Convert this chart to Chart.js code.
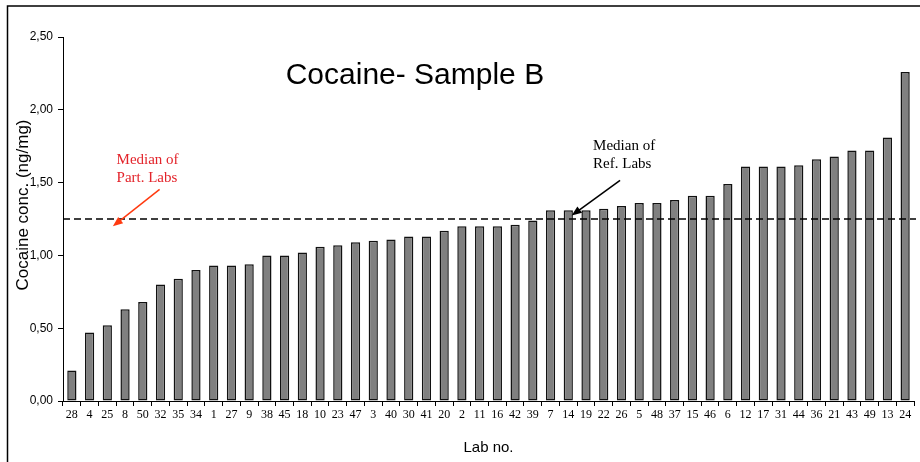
<!DOCTYPE html>
<html>
<head>
<meta charset="utf-8">
<script src="https://cdn.jsdelivr.net/npm/chart.js@4.4.1/dist/chart.umd.min.js"></script>
<style>
  html, body { margin: 0; padding: 0; background: #fff; }
  #wrap { width: 920px; height: 462px; }
</style>
</head>
<body>
<div id="wrap"><canvas id="chart" width="920" height="462"></canvas></div>
<script>
// Lab numbers, sorted by result (x axis)
const labNumbers = ['28', '4', '25', '8', '50', '32', '35', '34', '1', '27', '9', '38', '45', '18', '10', '23',
  '47', '3', '40', '30', '41', '20', '2', '11', '16', '42', '39', '7', '14', '19', '22', '26', '5', '48',
  '37', '15', '46', '6', '12', '17', '31', '44', '36', '21', '43', '49', '13', '24']

// Cocaine concentration, ng/mg
const cocaineConc = [0.21, 0.47, 0.52, 0.63, 0.68, 0.80, 0.84, 0.90, 0.93, 0.93, 0.94, 1.00, 1.00, 1.02,
  1.06, 1.07, 1.09, 1.10, 1.11, 1.13, 1.13, 1.17, 1.20, 1.20, 1.20, 1.21, 1.24, 1.31, 1.31, 1.31, 1.32,
  1.34, 1.36, 1.36, 1.38, 1.41, 1.41, 1.49, 1.61, 1.61, 1.61, 1.62, 1.66, 1.68, 1.72, 1.72, 1.81, 2.26]

const yTickValues = [0, 0.5, 1, 1.5, 2, 2.5]
const medianLine = 1.25

const chartTitle = 'Cocaine- Sample B'
const yTitle = 'Cocaine conc. (ng/mg)'
const xTitle = 'Lab no.'

// text + arrow notes, placed in data coords (category index, value)
const notes = [
  { lines: ['Median of', 'Part. Labs'], color: '#e3242b', arrowColor: '#ff3a10',
    at: [2.52, 1.652], from: [4.95, 1.453], to: [2.31, 1.2] },
  { lines: ['Median of', 'Ref. Labs'], color: '#000', arrowColor: '#000',
    at: [29.4, 1.748], from: [30.92, 1.516], to: [28.19, 1.274] }
]

function drawArrow(ctx, x1, y1, x2, y2, color) {
  const ang = Math.atan2(y2 - y1, x2 - x1)
  const len = 10, half = 4
  ctx.save()
  ctx.strokeStyle = color
  ctx.fillStyle = color
  ctx.lineWidth = 1.5
  ctx.beginPath()
  ctx.moveTo(x1, y1)
  ctx.lineTo(x2 - Math.cos(ang) * len * 0.8, y2 - Math.sin(ang) * len * 0.8)
  ctx.stroke()
  ctx.beginPath()
  ctx.moveTo(x2, y2)
  ctx.lineTo(x2 - Math.cos(ang) * len - Math.sin(ang) * half, y2 - Math.sin(ang) * len + Math.cos(ang) * half)
  ctx.lineTo(x2 - Math.cos(ang) * len + Math.sin(ang) * half, y2 - Math.sin(ang) * len - Math.cos(ang) * half)
  ctx.closePath()
  ctx.fill()
  ctx.restore()
}

const extras = {
  id: 'extras',
  afterDraw(chart) {
    const ctx = chart.ctx
    const { x, y } = chart.scales
    const area = chart.chartArea

    // outer frame (only top & left edges are inside the picture)
    ctx.save()
    ctx.strokeStyle = '#000'
    ctx.lineWidth = 1.5
    ctx.beginPath()
    ctx.moveTo(7.5, chart.height)
    ctx.lineTo(7.5, 6)
    ctx.lineTo(chart.width, 6)
    ctx.stroke()
    ctx.restore()

    // median dashed line
    const my = y.getPixelForValue(medianLine)
    ctx.save()
    ctx.strokeStyle = '#000'
    ctx.lineWidth = 1.5
    ctx.setLineDash([7, 4])
    ctx.beginPath()
    ctx.moveTo(area.left, my)
    ctx.lineTo(area.right + 2, my)
    ctx.stroke()
    ctx.restore()

    // title inside plot
    ctx.save()
    ctx.fillStyle = '#000'
    ctx.font = '30px "Liberation Sans", Arial, sans-serif'
    ctx.textAlign = 'center'
    ctx.textBaseline = 'alphabetic'
    ctx.fillText(chartTitle, x.getPixelForValue(19.35), y.getPixelForValue(2.174))
    ctx.restore()

    // y axis title
    ctx.save()
    ctx.fillStyle = '#000'
    ctx.font = '17px "Liberation Sans", Arial, sans-serif'
    ctx.textAlign = 'center'
    ctx.textBaseline = 'middle'
    ctx.translate(23, (area.top + area.bottom) / 2 - 14)
    ctx.rotate(-Math.PI / 2)
    ctx.fillText(yTitle, 0, 0)
    ctx.restore()

    // notes
    notes.forEach(n => {
      ctx.save()
      ctx.fillStyle = n.color
      ctx.font = '15px "Liberation Serif", "Times New Roman", serif'
      ctx.textAlign = 'left'
      ctx.textBaseline = 'middle'
      const tx = x.getPixelForValue(n.at[0])
      const ty = y.getPixelForValue(n.at[1])
      n.lines.forEach((l, i) => ctx.fillText(l, tx, ty + i * 18))
      ctx.restore()
      drawArrow(ctx,
        x.getPixelForValue(n.from[0]), y.getPixelForValue(n.from[1]),
        x.getPixelForValue(n.to[0]), y.getPixelForValue(n.to[1]), n.arrowColor)
    })
  }
}

new Chart(document.getElementById('chart'), {
  type: 'bar',
  data: {
    labels: labNumbers,
    datasets: [{
      data: cocaineConc,
      backgroundColor: '#808080',
      borderColor: '#111',
      borderWidth: 1.5,
      borderSkipped: false,
      barPercentage: 0.52,
      categoryPercentage: 1.0
    }]
  },
  options: {
    responsive: false,
    animation: false,
    devicePixelRatio: 1,
    layout: { padding: { top: 37, right: 6, left: 0, bottom: 0 } },
    plugins: {
      legend: { display: false },
      tooltip: { enabled: false },
      title: { display: false }
    },
    scales: {
      x: {
        afterFit: s => { s.height = 61 },
        border: { display: true, color: '#000', width: 1 },
        grid: { offset: true, drawOnChartArea: false, color: '#000', tickLength: 5 },
        ticks: {
          autoSkip: false, maxRotation: 0, minRotation: 0, padding: 2, color: '#000',
          font: { family: '"Liberation Serif", "Times New Roman", serif', size: 12 }
        },
        title: {
          display: true, text: xTitle, color: '#000',
          font: { family: '"Liberation Sans", Arial, sans-serif', size: 15 },
          padding: { top: 0, bottom: 5 }
        }
      },
      y: {
        min: 0,
        max: 2.5,
        afterFit: s => { s.width = 63 },
        afterBuildTicks: s => { s.ticks = yTickValues.map(v => ({ value: v })) },
        border: { display: true, color: '#000', width: 1 },
        grid: { drawOnChartArea: false, color: '#000', tickLength: 5 },
        ticks: {
          padding: 5, color: '#000',
          font: { family: '"Liberation Sans", Arial, sans-serif', size: 12 },
          callback: v => Number(v).toFixed(2).replace('.', ',')
        }
      }
    }
  },
  plugins: [extras]
})
</script>
</body>
</html>
